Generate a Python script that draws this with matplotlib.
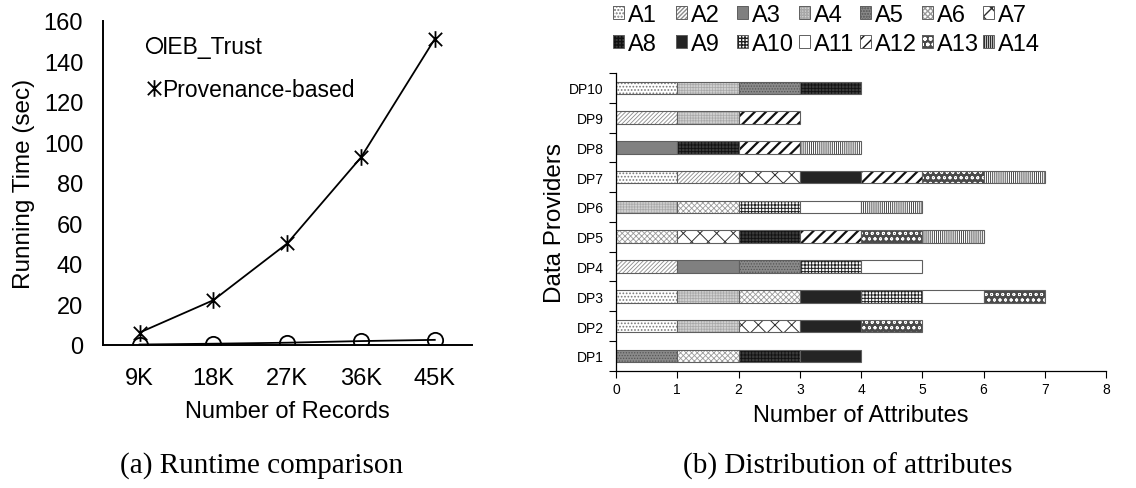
import numpy as np
import matplotlib
matplotlib.use("Agg")
import matplotlib.pyplot as plt
from matplotlib.path import Path
from matplotlib.patches import Patch
from matplotlib.lines import Line2D

plt.rcParams['font.family'] = ['Liberation Sans', 'DejaVu Sans']

# ---- (a) runtime data ----
records = ['9K', '18K', '27K', '36K', '45K']
ieb_trust = [0.1, 0.5, 1.0, 1.8, 2.4]
provenance = [6, 22, 50, 92.5, 151]

# ---- (b) attribute membership per provider (DP1..DP10) ----
providers = ['DP1', 'DP2', 'DP3', 'DP4', 'DP5', 'DP6', 'DP7', 'DP8', 'DP9', 'DP10']
attributes = ['A1', 'A2', 'A3', 'A4', 'A5', 'A6', 'A7',
              'A8', 'A9', 'A10', 'A11', 'A12', 'A13', 'A14']
a1 = [0, 1, 1, 0, 0, 0, 1, 0, 0, 1]
a2 = [0, 0, 0, 1, 0, 0, 1, 0, 1, 0]
a3 = [0, 0, 0, 1, 0, 0, 0, 1, 0, 0]
a4 = [0, 1, 1, 0, 0, 1, 0, 0, 1, 1]
a5 = [1, 0, 0, 1, 0, 0, 0, 0, 0, 1]
a6 = [1, 0, 1, 0, 1, 1, 0, 0, 0, 0]
a7 = [0, 1, 0, 0, 1, 0, 1, 0, 0, 0]
a8 = [1, 0, 0, 0, 1, 0, 0, 1, 0, 1]
a9 = [1, 1, 1, 0, 0, 0, 1, 0, 0, 0]
a10 = [0, 0, 1, 1, 0, 1, 0, 0, 0, 0]
a11 = [0, 0, 1, 1, 0, 1, 0, 0, 0, 0]
a12 = [0, 0, 0, 0, 1, 0, 1, 1, 1, 0]
a13 = [0, 1, 1, 0, 1, 0, 1, 0, 0, 0]
a14 = [0, 0, 0, 0, 1, 1, 1, 1, 0, 0]
counts = [a1, a2, a3, a4, a5, a6, a7, a8, a9, a10, a11, a12, a13, a14]

# fill styles: (face colour, hatch, hatch colour, hatch line width)
styles = [
    ('white',   '.....',    '#7a7a7a', 0.8),   # A1 dots
    ('white',   '////////', '#8a8a8a', 0.6),   # A2 fine diagonal
    ('#808080', '',         '#808080', 0.6),   # A3 solid grey
    ('#d0d0d0', '++++++',   '#a8a8a8', 0.5),   # A4 light textured
    ('#8a8a8a', '......',   '#555555', 0.6),   # A5 dark textured
    ('white',   'xxxxxx',   '#9a9a9a', 0.6),   # A6 fine zigzag
    ('white',   'xx',       '#303030', 0.7),   # A7 wide cross
    ('#3a3a3a', '+++++',    '#111111', 0.6),   # A8 very dark
    ('#242424', '',         '#242424', 0.6),   # A9 solid black
    ('white',   '+++++',    '#202020', 0.7),   # A10 grid
    ('white',   '',         'white',   0.6),   # A11 blank
    ('white',   '///',      '#101010', 1.6),   # A12 bold diagonal
    ('#4a4a4a', 'ooo',      'white',   0.6),   # A13 circles
    ('white',   '||||||||', '#303030', 0.6),   # A14 vertical lines
]

fig = plt.figure(figsize=(11.36, 4.89), dpi=100)

# ================= (a) =================
ax1 = fig.add_axes([0.0904, 0.2930, 0.3248, 0.6626])
xpos = np.arange(len(records))
ax1.plot(xpos, ieb_trust, color='black', lw=1.3, marker='o', ms=11,
         mfc='none', mec='black', mew=1.3)
star = Path([(-1, -1), (1, 1), (-1, 1), (1, -1), (0, -1.25), (0, 1.25)],
            [Path.MOVETO, Path.LINETO, Path.MOVETO, Path.LINETO,
             Path.MOVETO, Path.LINETO])
ax1.plot(xpos, provenance, color='black', lw=1.3, marker=star, ms=12,
         mfc='none', mec='black', mew=1.3)
ax1.set_xlim(-0.5, 4.5)
ax1.set_ylim(0, 160)
ax1.set_yticks(np.arange(0, 161, 20))
ax1.set_xticks(xpos)
ax1.set_xticklabels(records)
ax1.tick_params(axis='both', length=0, labelsize=17)
ax1.tick_params(axis='x', pad=16)
ax1.tick_params(axis='y', pad=14)
for s in ('top', 'right'):
    ax1.spines[s].set_visible(False)
for s in ('left', 'bottom'):
    ax1.spines[s].set_linewidth(1.4)
ax1.set_ylabel('Running Time (sec)', fontsize=17.5, labelpad=6)
ax1.set_xlabel('Number of Records', fontsize=17, labelpad=8)

leg_handles = [
    Line2D([], [], ls='none', marker='o', ms=11, mfc='none', mec='black', mew=1.3),
    Line2D([], [], ls='none', marker=star, ms=12, mfc='none', mec='black', mew=1.3),
]
ax1.legend(leg_handles, ['IEB_Trust', 'Provenance-based'], loc='upper left',
           bbox_to_anchor=(0.124, 0.955), frameon=False, fontsize=16.5,
           handlelength=0.5, handletextpad=0.1, labelspacing=0.85,
           borderpad=0, borderaxespad=0)

# ================= (b) =================
ax2 = fig.add_axes([0.5423, 0.2399, 0.4313, 0.6088])
ypos = np.arange(len(providers))
left = np.zeros(len(providers))
bar_h = 0.42
proxies = []
for name, vals, (face, hatch, hcol, hlw) in zip(attributes, counts, styles):
    vals = np.asarray(vals, dtype=float)
    idx = np.nonzero(vals)[0]
    with plt.rc_context({'hatch.linewidth': hlw}):
        ax2.barh(ypos[idx], vals[idx], left=left[idx], height=bar_h,
                 color=face, hatch=hatch, edgecolor=hcol, linewidth=0)
        ax2.barh(ypos[idx], vals[idx], left=left[idx], height=bar_h,
                 fill=False, edgecolor='#5f5f5f', linewidth=0.8)
        proxies.append((Patch(facecolor=face, hatch=hatch, edgecolor=hcol,
                              linewidth=0),
                        Patch(fill=False, edgecolor='#606060', linewidth=0.7)))
    left += vals

ax2.set_xlim(0, 8)
ax2.set_ylim(-0.5, 9.5)
ax2.set_xticks(np.arange(0, 9, 1))
ax2.set_yticks(ypos)
ax2.set_yticklabels(providers)
ax2.set_yticks(np.arange(-0.5, 10, 1), minor=True)
ax2.tick_params(axis='y', which='major', length=0, pad=9, labelsize=10)
ax2.tick_params(axis='y', which='minor', length=5, width=0.8, direction='out')
ax2.tick_params(axis='x', length=5, width=0.8, direction='out', pad=3,
                labelsize=10)
for s in ('top', 'right'):
    ax2.spines[s].set_visible(False)
for s in ('left', 'bottom'):
    ax2.spines[s].set_linewidth(0.9)
ax2.set_ylabel('Data Providers', fontsize=17.5, labelpad=2)
ax2.set_xlabel('Number of Attributes', fontsize=17, labelpad=6)

# legend above panel (b): seven columns, two rows
col_x = [613, 676, 737, 799, 860, 922, 983]
for c, x in enumerate(col_x):
    fig.legend(handles=[proxies[c], proxies[c + 7]],
               labels=[attributes[c], attributes[c + 7]], loc='upper left',
               bbox_to_anchor=(x / 1136, 1 - 5 / 489), frameon=False,
               fontsize=17, handlelength=0.45, handleheight=0.45,
               handletextpad=0.2, labelspacing=0.3, borderpad=0,
               borderaxespad=0)

# captions
serif = ['Liberation Serif', 'DejaVu Serif']
fig.text(262 / 1136, 1 - 466 / 489, '(a) Runtime comparison',
         family=serif, fontsize=21, ha='center', va='center')
fig.text(848 / 1136, 1 - 466 / 489, '(b) Distribution of attributes',
         family=serif, fontsize=21, ha='center', va='center')

fig.savefig('out.png', dpi=100)
